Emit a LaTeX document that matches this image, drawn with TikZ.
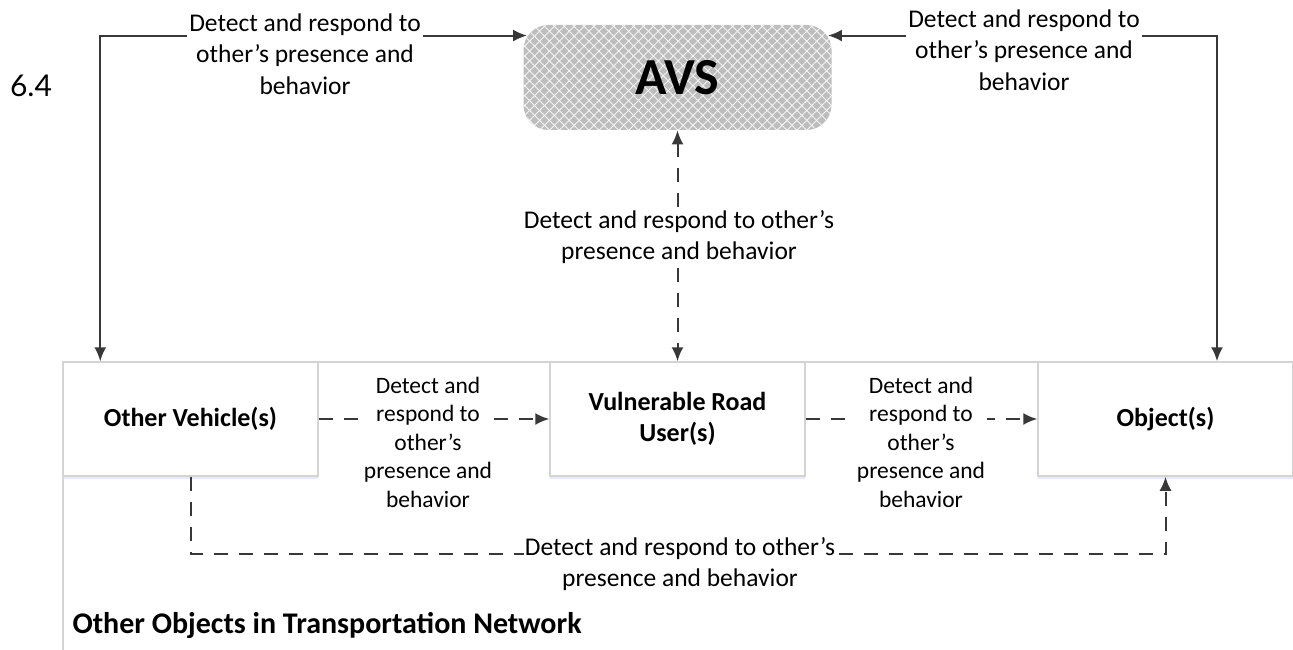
\documentclass[tikz,border=0pt]{standalone}
\usepackage{fontspec}
\setmainfont{Carlito}
\newfontfamily\numfont{Lato}
\usepackage{tikz}
\usetikzlibrary{arrows.meta,patterns.meta,shadows}
\definecolor{linegray}{HTML}{383838}
\definecolor{edgegray}{HTML}{D4D4D4}
\definecolor{avsgray}{HTML}{BDBDBD}
\tikzstyle{block} = [draw=edgegray, fill=white, rectangle, line width=1.5pt,
    minimum width=255pt, minimum height=114pt, align=center,
    font=\fontsize{26}{31}\selectfont\bfseries,
    drop shadow={shadow xshift=0pt, shadow yshift=-3pt, fill=blue!15!white, opacity=0.6}]
\tikzstyle{avs} = [rectangle, rounded corners=25pt, minimum width=308pt, minimum height=105pt,
    preaction={fill=avsgray},
    pattern={Lines[angle=45,distance=7pt,line width=0.9pt]}, pattern color=white!85!avsgray,
    postaction={pattern={Lines[angle=-45,distance=7pt,line width=0.9pt]}, pattern color=white!85!avsgray},
    font=\fontsize{52}{60}\selectfont\bfseries]
\tikzstyle{frame} = [draw=edgegray, line width=1.5pt]
\tikzstyle{note} = [fill=white, align=center, inner sep=2pt, font=\fontsize{25.5}{31.5}\selectfont]
\tikzstyle{boxnote} = [fill=white, align=center, inner sep=2pt, font=\fontsize{23.5}{28.5}\selectfont]
\tikzstyle{link} = [draw=linegray, line width=2pt]
\tikzstyle{dlink} = [link, dash pattern=on 14pt off 11pt]

\begin{document}
\begin{tikzpicture}[>={Latex[length=14pt,width=12pt]}]
\useasboundingbox (0,0) rectangle (1293pt,-650pt);
\clip (0,0) rectangle (1293pt,-650pt);
% Frame
	\draw [frame] (63pt,-362pt) rectangle (1330pt,-700pt);
	\node [anchor=west, font=\fontsize{30}{34}\selectfont\bfseries] (net) at (69pt,-625pt) {Other Objects in Transportation Network};
	\node [font=\fontsize{30}{32}\selectfont\numfont] (num) at (31pt,-86pt) {6.4};
% Nodes
	\node [block] (ov) at (190.5pt,-419pt) {Other Vehicle(s)};
	\node [block, right of=ov, node distance=487pt] (vru) {Vulnerable Road\\User(s)};
	\node [block, right of=vru, node distance=488pt] (obj) {Object(s)};
	\node [avs, above of=vru, node distance=341.5pt] (avs) {AVS};
	\coordinate (a1) at ([shift={(4pt,-11pt)}]avs.north west);
	\coordinate (a2) at ([shift={(-4pt,-11pt)}]avs.north east);
	\coordinate (t1) at ([xshift=38pt]ov.north west);
	\coordinate (t2) at ([xshift=51.5pt]obj.north);
% Connections
	\draw [link, <->] (a1) -| (t1);
	\draw [link, <->] (a2) -| (t2);
	\draw [dlink, <->] (avs.south) -- (vru.north);
	\draw [dlink, ->] (ov.east) -- (vru.west);
	\draw [dlink, ->] (vru.east) -- (obj.west);
	\draw [dlink, ->] (ov.south) -- ++(0,-77pt) -| (obj.south);
% Notations
	\node [note] (n1) at (305pt,-54pt) {Detect and respond to\\other’s presence and\\behavior};
	\node [note] (n2) at (1024pt,-50pt) {Detect and respond to\\other’s presence and\\behavior};
	\node [note] (n3) at (679pt,-237pt) {Detect and respond to other’s\\presence and behavior};
	\node [boxnote] (n4) at (428pt,-442pt) {Detect and\\respond to\\other’s\\presence and\\behavior};
	\node [boxnote] (n5) at (921pt,-442pt) {Detect and\\respond to\\other’s\\presence and\\behavior};
	\node [note, inner sep=1pt] (n6) at (680pt,-564pt) {Detect and respond to other’s\\presence and behavior};
\end{tikzpicture}
\end{document}
